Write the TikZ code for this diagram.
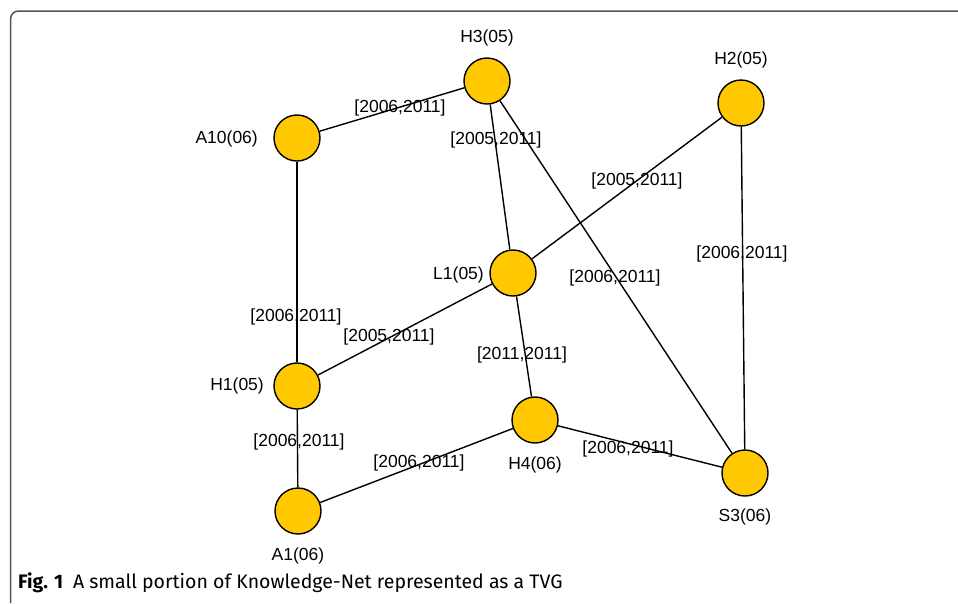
\documentclass[tikz,border=0pt]{standalone}
\usepackage{fontspec}
\setmainfont{Liberation Sans}
\newfontfamily\capfont{Fira Sans}
\definecolor{vgold}{RGB}{255,200,0}
\definecolor{framegray}{RGB}{85,85,85}
\tikzset{
  vtx/.style={circle,draw=black,line width=1.4pt,fill=vgold,minimum size=46pt,inner sep=0pt},
  vname/.style={font=\fontsize{17.5}{20}\selectfont,inner sep=0pt},
  span/.style={font=\fontsize{17.5}{20}\selectfont,inner sep=0pt},
  link/.style={line width=1.4pt}
}
\begin{document}
\begin{tikzpicture}[x=1pt,y=-1pt]
\useasboundingbox (0,0) rectangle (958,603);
% frame
\draw[framegray,line width=1.5pt,rounded corners=8pt] (10.5,603) -- (10.5,11) -- (958,11);
% vertices
\foreach \n/\x/\y in {h3/487/81,a10/297/138,h2/741/103,l1/513/273,h1/297/386,h4/535/420,a1/298/511,s3/745/473}
  \node[vtx] (\n) at (\x,\y) {};
% edges
\foreach \a/\b in {a10/h3,h3/l1,h3/s3,h2/l1,h2/s3,a10/h1,l1/h1,l1/h4,h1/a1,a1/h4,h4/s3}
  \draw[link] (\a) -- (\b);
% vertex names
\node[vname] (h3-t) at (487,38) {H3(05)};
\node[vname,anchor=east] (a10-t) at (258,139) {A10(06)};
\node[vname] (h2-t) at (741,60) {H2(05)};
\node[vname,anchor=east] (l1-t) at (484,275) {L1(05)};
\node[vname,anchor=east] (h1-t) at (264,386) {H1(05)};
\node[vname] (h4-t) at (535,465) {H4(06)};
\node[vname] (a1-t) at (298,556) {A1(06)};
\node[vname] (s3-t) at (745,517) {S3(06)};
% time intervals
\foreach \n/\x/\y/\l in {s1/400/108/{[2006,2011]},s2/496/140/{[2005,2011]},s3/615/278/{[2006,2011]},
  s4/637/181/{[2005,2011]},s5/742/254/{[2006,2011]},s6/296/317/{[2006,2011]},s7/389/337/{[2005,2011]},
  s8/522/355/{[2011,2011]},s9/299/442/{[2006,2011]},s10/419/463/{[2006,2011]},s11/628/449/{[2006,2011]}}
  \node[span] (\n) at (\x,\y) {\l};
% caption
\node[anchor=base west,inner sep=0pt,font=\capfont\fontsize{19.5}{22}\selectfont] (cap) at (18,588)
  {\textbf{Fig. 1}\hspace{0.5em}A small portion of Knowledge-Net represented as a TVG};
\end{tikzpicture}
\end{document}
